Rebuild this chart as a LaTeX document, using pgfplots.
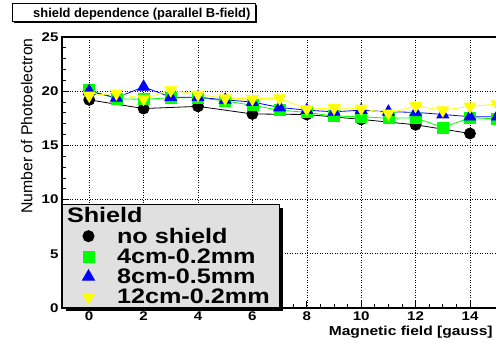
\documentclass[border=0pt]{standalone}
\usepackage{pgfplots}
\pgfplotsset{compat=1.18}
\usepackage{fontspec}
\setmainfont{Liberation Sans}
\newfontfamily\rootb{Liberation Sans}[FakeStretch=1.2]
\usetikzlibrary{shadows}
\definecolor{rgreen}{RGB}{0,255,0}
\definecolor{rblue}{RGB}{0,0,255}
\definecolor{ryellow}{RGB}{255,255,0}
\definecolor{lgray}{RGB}{224,224,224}
\pgfplotsset{lgimg/.style={legend image code/.code={\path (0bp,0bp) (50.5bp,0bp); \draw[##1] plot coordinates {(22.5bp,0bp)};}}}
\begin{document}
\begin{tikzpicture}
\begin{axis}[
  at={(62bp,35bp)}, anchor=south west,
  scale only axis, width=448.8bp, height=271bp,
  xmin=-1, xmax=15.5, ymin=0, ymax=25,
  xtick={0,2,...,14}, ytick={0,5,...,25},
  minor x tick num=3, minor y tick num=4,
  xtick pos=left, ytick pos=left,
  tick align=inside,
  major tick length=7bp, minor tick length=4bp,
  tick style={black, line width=0.8bp},
  axis line style={line width=1.1bp},
  grid=major,
  major grid style={black, line width=0.6bp, dash pattern=on 1bp off 1.5bp},
  /pgf/number format/assume math mode=true,
  ticklabel style={font=\rootb\bfseries\fontsize{12.6bp}{12.6bp}\selectfont},
  xticklabel style={inner sep=0pt, yshift=-4bp},
  ylabel={Number of Photoelectron},
  ylabel style={font=\fontsize{15.8bp}{15.8bp}\selectfont, at={(rel axis cs:0,1)}, anchor=base east, inner sep=0pt, yshift=29.5bp, xshift=-1bp},
  xlabel={Magnetic field [gauss]},
  xlabel style={font=\rootb\bfseries\fontsize{13bp}{13bp}\selectfont, at={(axis cs:14.84,0)}, anchor=base east, yshift=-27bp, inner sep=0pt},
  legend style={at={(rel axis cs:0,0)}, anchor=south west, fill=lgray, draw=black, line width=1bp,
    drop shadow={shadow xshift=3bp, shadow yshift=-3bp, fill=black, opacity=1},
    font=\rootb\bfseries\fontsize{21bp}{21bp}\selectfont, inner xsep=3bp, inner ysep=2.5bp,
    nodes={inner sep=0pt}, column sep=0pt, row sep=4bp,
    cells={anchor=west}},
  legend cell align=left,
]
\addlegendimage{empty legend}
\addlegendentry{\hspace*{-50bp}Shield}
\addlegendimage{only marks, mark=*, black, mark size=5.5bp, lgimg}
\addlegendentry{no shield}
\addlegendimage{only marks, mark=square*, rgreen, mark size=5.5bp, lgimg}
\addlegendentry{4cm-0.2mm}
\addlegendimage{only marks, mark=triangle*, rblue, mark size=6.8bp, lgimg}
\addlegendentry{8cm-0.5mm}
\addlegendimage{only marks, mark=triangle*, mark options={rotate=180}, ryellow, mark size=6.8bp, lgimg}
\addlegendentry{12cm-0.2mm\hspace*{7bp}}

\addplot[black, line width=0.8bp, mark=*, mark size=5.5bp, forget plot] coordinates {
(0,19.2) (2,18.4) (4,18.6) (6,17.9) (8,17.85) (10,17.4) (12,16.9) (14,16.1)};
\addplot[rgreen, line width=0.8bp, mark=square*, mark size=5.5bp, forget plot] coordinates {
(0,20.1) (1,19.3) (2,19.25) (3,19.4) (4,19.4) (5,19.1) (6,18.7) (7,18.25) (8,18.05) (9,17.7) (10,17.65) (11,17.5) (12,17.55) (13,16.65) (14,17.55) (15,17.45)};
\addplot[rblue, line width=0.8bp, mark=triangle*, mark size=6.8bp, forget plot] coordinates {
(0,20.0) (1,19.4) (2,20.4) (3,19.45) (4,19.45) (5,19.2) (6,19.0) (7,18.5) (8,18.25) (9,18.1) (10,18.25) (11,18.1) (12,18.05) (13,17.85) (14,17.65) (15,17.65)};
\addplot[ryellow, line width=0.8bp, mark=triangle*, mark options={rotate=180}, mark size=6.8bp, forget plot] coordinates {
(0,19.6) (1,19.8) (2,19.3) (3,20.1) (4,19.7) (5,19.35) (6,19.3) (7,19.35) (8,18.35) (9,18.45) (10,18.4) (11,17.95) (12,18.65) (13,18.25) (14,18.6) (15,18.8)};
\end{axis}
\draw[fill=white, line width=0.8bp, drop shadow={shadow xshift=2bp, shadow yshift=-2bp, fill=black, opacity=1}] (12bp,340bp) rectangle (255bp,322bp);
\node[anchor=base west, inner sep=0pt, font=\bfseries\fontsize{12.9bp}{12.9bp}\selectfont] at (33bp,325bp) {shield dependence (parallel B-field)};
\pgfresetboundingbox
\useasboundingbox (0,0) rectangle (496bp,343bp);
\end{tikzpicture}
\end{document}
